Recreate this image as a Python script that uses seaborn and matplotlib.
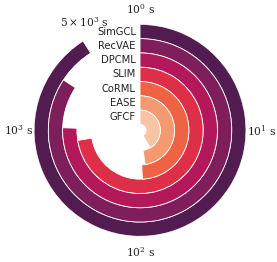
import numpy as np
import seaborn as sns
import matplotlib
import matplotlib.pyplot as plt
matplotlib.use("agg")

# training time per model (seconds), outer ring first
models = ['SimGCL', 'RecVAE', 'DPCML', 'SLIM', 'CoRML', 'EASE', 'GFCF']
times = [4350, 2350, 1050, 790, 93, 80, 46]
tick_vals = [1, 10, 100, 1000, 5000]
tick_labels = [r'$10^0$ s', r'$10^1$ s', r'$10^2$ s', r'$10^3$ s', r'$5\times10^3$ s']

colors = ['#521c50', '#7e1e5a', '#b3195a', '#de2f48', '#ef6344', '#f59a70', '#f7c5a5']

sns.set_style("white")
plt.rcParams['font.family'] = ['DejaVu Sans']
plt.rcParams['mathtext.fontset'] = 'dejavuserif'

fig = plt.figure(figsize=(2.77, 2.62), dpi=100)
ax = fig.add_axes([0.121, 0.098, 0.769, 0.809], projection='polar')
ax.set_theta_zero_location('N')
ax.set_theta_direction(-1)

hole = 0.42
n = len(models)
full = 4.0  # log10 range for a full turn
for i, (m, t, c) in enumerate(zip(models, times, colors)):
    bottom = hole + (n - 1 - i)
    ang = np.log10(t) / full * 2 * np.pi
    ax.bar(0, 1, width=ang, bottom=bottom, align='edge', color=c,
           edgecolor='white', linewidth=0.6)
    ax.annotate(m, xy=(0, bottom + 0.5), xytext=(-3, 0), textcoords='offset points',
                ha='right', va='center', fontsize=7.2, color='#222222')

rmax = hole + n
ax.set_ylim(0, rmax)
for v, lab in zip(tick_vals, tick_labels):
    ang = np.log10(v) / full * 2 * np.pi
    ax.text(ang, rmax * 1.145, lab, ha='center', va='center', fontsize=7.7,
            family='DejaVu Serif', color='#222222')

ax.axis('off')
plt.savefig('out.png', dpi=100)
plt.close()
